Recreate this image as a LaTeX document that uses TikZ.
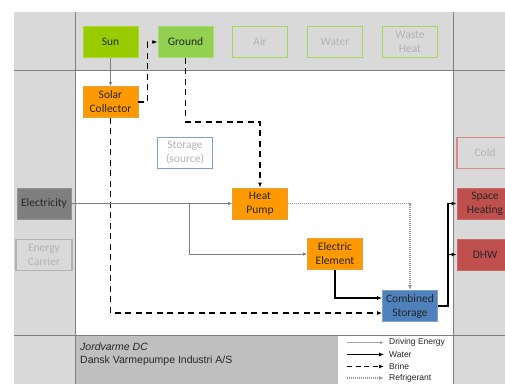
\documentclass[tikz,border=0pt]{standalone}
\usepackage{fontspec}
\setmainfont{Carlito}
\newfontfamily\arialfont{Liberation Sans}
\usetikzlibrary{arrows.meta}
\definecolor{framegray}{HTML}{D9D9D9}
\definecolor{darkband}{HTML}{BFBFBF}
\definecolor{gridline}{HTML}{7F7F7F}
\definecolor{sungreen}{HTML}{99CC00}
\definecolor{groundgreen}{HTML}{92D050}
\definecolor{outgreen}{HTML}{A6D65A}
\definecolor{hporange}{HTML}{FF9900}
\definecolor{hpborder}{HTML}{E3A040}
\definecolor{elecgray}{HTML}{7F7F7F}
\definecolor{csblue}{HTML}{4F81BD}
\definecolor{csborder}{HTML}{7FA0CC}
\definecolor{redfill}{HTML}{C0504D}
\definecolor{redout}{HTML}{D98A88}
\definecolor{blueout}{HTML}{7F9FCF}
\definecolor{ghosttext}{HTML}{B3B3B3}
\definecolor{bodytext}{HTML}{262626}
\tikzset{
  box/.style={minimum width=55pt, minimum height=31pt, inner sep=0pt, align=center,
    font=\fontsize{11.5}{14}\selectfont, text=bodytext, line width=0.8pt},
  orangebox/.style={box, fill=hporange, draw=hpborder},
  ghostbox/.style={box, fill=framegray, text=ghosttext, line width=1.4pt},
  drive/.style={draw=gridline, line width=0.8pt, -{Latex[length=4pt,width=3.5pt]}},
  water/.style={draw=black, line width=1.6pt, -{Latex[length=5pt,width=4pt]}},
  brine/.style={draw=black, line width=1.6pt, dash pattern=on 6pt off 4.5pt, -{Latex[length=5pt,width=4pt]}},
  refrig/.style={draw=gray!80, line width=1.4pt, dash pattern=on 1pt off 1pt, -{Latex[length=5pt,width=4pt]}},
  legtext/.style={anchor=west, inner sep=0pt, font=\arialfont\fontsize{8.5}{10}\selectfont, text=bodytext},
}
\begin{document}
\begin{tikzpicture}[x=1pt, y=-1pt]
\useasboundingbox (0,0) rectangle (505,383);
\clip (0,0) rectangle (505,383);
% frame
\fill[framegray] (14,12) rectangle (520,390);
\fill[white] (75,70) rectangle (453,335);
\fill[darkband] (75,335) rectangle (338,390);
\fill[white] (338,335) rectangle (453,390);
\draw[gridline, line width=1pt] (75,12) -- (75,390);
\draw[gridline, line width=1pt] (453,12) -- (453,390);
\draw[gridline, line width=1pt] (14,70) -- (520,70);
\draw[gridline, line width=1pt] (14,335) -- (520,335);
% sources
\node[box, fill=sungreen, draw=sungreen!80!white] (sun) at (110.5,42) {Sun};
\node[box, fill=groundgreen, draw=groundgreen!80!white] (ground) at (185.5,42) {Ground};
\node[ghostbox, draw=outgreen] (air) at (260,42) {Air};
\node[ghostbox, draw=outgreen] (water) at (335,42) {Water};
\node[ghostbox, draw=outgreen] (waste) at (410,42) {Waste\\Heat};
% components
\node[orangebox] (solar) at (110.5,102) {Solar\\Collector};
\node[box, fill=white, draw=blueout, text=ghosttext, line width=1.2pt] (storsrc) at (185,153) {Storage\\(source)};
\node[box, minimum width=54pt, fill=elecgray, draw=elecgray!85!white] (elec) at (44,203.5) {Electricity};
\node[ghostbox, draw=gray!60, minimum width=56pt, line width=1.2pt] (carrier) at (44,255) {Energy\\Carrier};
\node[orangebox] (hp) at (260,203.5) {Heat\\Pump};
\node[orangebox] (ee) at (335,254) {Electric\\Element};
\node[box, fill=csblue, draw=csborder] (cs) at (410,306) {Combined\\Storage};
% sinks
\node[ghostbox, draw=redout, minimum width=56pt] (cold) at (485,153) {Cold};
\node[box, fill=redfill, draw=redfill!85!white, minimum width=56pt] (sh) at (485,203.5) {Space\\Heating};
\node[box, fill=redfill, draw=redfill!85!white, minimum width=56pt] (dhw) at (485,254.5) {DHW};
% connectors
\draw[drive] (sun) -- (solar);
\draw[brine] (solar.east) -- ++(9,0) |- (ground.west);
\draw[brine] (ground.south) -- ++(0,64) -| (hp.north);
\draw[brine] (solar.south) |- ([yshift=-7pt]cs.west);
\draw[drive] (elec.east) -- (hp.west);
\coordinate (br) at (189,203.5);
\draw[drive] (br) |- (ee.west);
\draw[refrig] (hp.east) -| (cs.north);
\draw[water] (ee.south) |- ([yshift=8pt]cs.west);
\draw[water] (cs.east) -- ++(10,0) |- (sh.west);
\draw[water] (cs.east) -- ++(10,0) |- (dhw.west);
% footer text
\node[anchor=west, inner sep=0pt, font=\arialfont\itshape\fontsize{10.5}{12}\selectfont, text=bodytext] (brand) at (80,346.5) {Jordvarme DC};
\node[anchor=west, inner sep=0pt, font=\arialfont\fontsize{10.5}{12}\selectfont, text=bodytext] (maker) at (80,360.5) {Dansk Varmepumpe Industri A/S};
% legend
\coordinate (l1a) at (347,342.5); \coordinate (l1b) at (384,342.5);
\coordinate (l2a) at (347,354.5); \coordinate (l2b) at (384,354.5);
\coordinate (l3a) at (347,366.5); \coordinate (l3b) at (384,366.5);
\coordinate (l4a) at (347,378); \coordinate (l4b) at (384,378);
\draw[drive, draw=gray!70, line width=0.7pt] (l1a) -- (l1b);
\draw[water, line width=1.3pt] (l2a) -- (l2b);
\draw[brine, line width=1.3pt, dash pattern=on 5pt off 3.5pt] (l3a) -- (l3b);
\draw[refrig, line width=1.1pt] (l4a) -- (l4b);
\node[legtext] (t1) at (389,342.5) {Driving Energy};
\node[legtext] (t2) at (389,354.5) {Water};
\node[legtext] (t3) at (389,366.5) {Brine};
\node[legtext] (t4) at (389,378) {Refrigerant};
\end{tikzpicture}
\end{document}
